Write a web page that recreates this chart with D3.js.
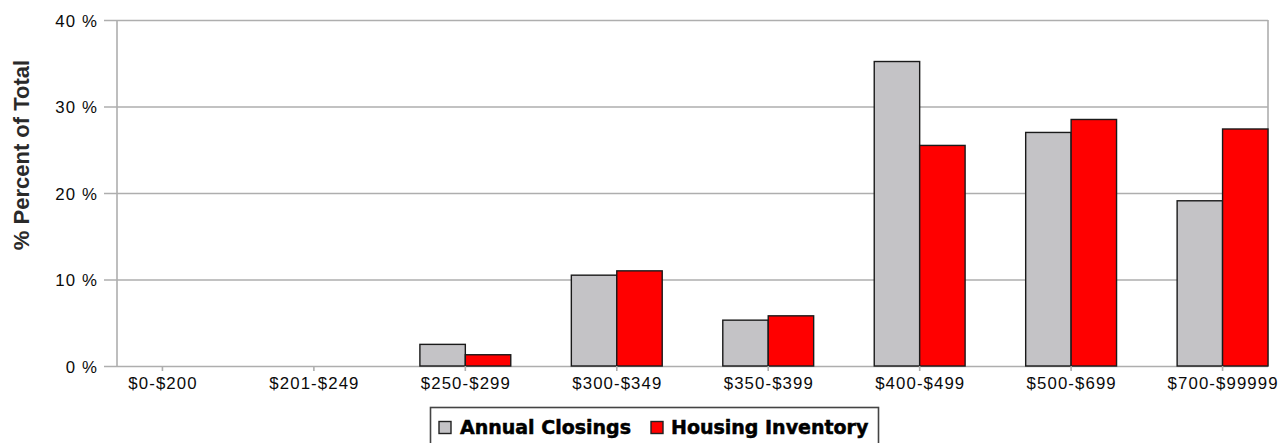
<!DOCTYPE html>
<html>
<head>
<meta charset="utf-8">
<script src="https://cdn.jsdelivr.net/npm/d3@7"></script>
<style>
  html, body { margin: 0; padding: 0; background: #fff; }
  svg { display: block; }
</style>
</head>
<body>
<svg id="chart" width="1279" height="443"></svg>
<script>
// Price ranges (thousands) and share of total per series
const categories = ["$0-$200", "$201-$249", "$250-$299", "$300-$349", "$350-$399", "$400-$499", "$500-$699", "$700-$99999"];
const annualClosings = [0, 0, 2.5, 10.5, 5.3, 35.2, 27.0, 19.1];
const housingInventory = [0, 0, 1.3, 11.0, 5.8, 25.5, 28.5, 27.4];
const seriesNames = ["Annual Closings", "Housing Inventory"];
const seriesColors = ["#c4c3c6", "#ff0000"];
const yTicks = [0, 10, 20, 30, 40];

const svg = d3.select("#chart");
const plotLeft = 117, plotRight = 1268, plotTop = 20, plotBottom = 366;

const x = d3.scaleBand().domain(categories).range([plotLeft, plotRight]).paddingInner(0.4).paddingOuter(0);
const xs = d3.scaleBand().domain(seriesNames).range([0, x.bandwidth()]);
const y = d3.scaleLinear().domain([0, 40]).range([plotBottom, plotTop]);

const gridColor = "#aeaeae";

// horizontal grid lines with ticks to the left
const yAxis = d3.axisLeft(y).tickValues(yTicks).tickSize(plotRight - plotLeft + 13).tickFormat(d => d + " %").tickPadding(6);
const gy = svg.append("g").attr("transform", `translate(${plotRight},0)`).call(yAxis);
gy.select(".domain").remove();
gy.selectAll(".tick line").attr("stroke", gridColor).attr("stroke-width", 1.6);
gy.selectAll(".tick text")
  .attr("font-family", "'Liberation Sans', Arial, sans-serif")
  .attr("font-size", "16.8px")
  .attr("letter-spacing", "1.1px")
  .attr("fill", "#0a0a0a")
  .attr("dy", "0.36em");

// left and right frame lines
svg.append("line").attr("x1", plotLeft).attr("x2", plotLeft).attr("y1", plotTop).attr("y2", plotBottom)
  .attr("stroke", gridColor).attr("stroke-width", 1.6);
svg.append("line").attr("x1", plotRight).attr("x2", plotRight).attr("y1", plotTop).attr("y2", plotBottom)
  .attr("stroke", gridColor).attr("stroke-width", 1.6);

// bars
const series = [annualClosings, housingInventory];
seriesNames.forEach((name, si) => {
  svg.append("g").selectAll("rect")
    .data(categories.map((c, i) => ({ c, v: series[si][i] })))
    .join("rect")
    .attr("x", d => x(d.c) + xs(name))
    .attr("y", d => y(d.v))
    .attr("width", xs.bandwidth())
    .attr("height", d => y(0) - y(d.v))
    .attr("fill", seriesColors[si])
    .attr("stroke", "#1a1a1a")
    .attr("stroke-opacity", d => d.v > 0 ? 1 : 0)
    .attr("stroke-width", 1.4);
});

// category axis
const gx = svg.append("g").attr("transform", `translate(0,${plotBottom})`)
  .call(d3.axisBottom(x).tickSize(5).tickPadding(6));
gx.select(".domain").remove();
gx.selectAll(".tick line").attr("stroke", gridColor).attr("stroke-width", 1.6);
gx.selectAll(".tick text")
  .attr("font-family", "'Liberation Sans', Arial, sans-serif")
  .attr("font-size", "16.8px")
  .attr("letter-spacing", "1.1px")
  .attr("fill", "#0a0a0a")
  .attr("dx", "0.55px");

// y axis title
svg.append("text")
  .attr("transform", "translate(29,155) rotate(-90)")
  .attr("text-anchor", "middle")
  .attr("font-family", "'Liberation Sans', Arial, sans-serif")
  .attr("font-weight", "bold")
  .attr("font-size", "22px")
  .attr("fill", "#2a2a2a")
  .text("% Percent of Total");

// legend
const lg = svg.append("g");
lg.append("rect").attr("x", 430.5).attr("y", 407.5).attr("width", 448).attr("height", 44)
  .attr("fill", "#fff").attr("stroke", "#444").attr("stroke-width", 1.6);
const legendX = [[439, 460], [651, 671]];
seriesNames.forEach((name, i) => {
  lg.append("rect").attr("x", legendX[i][0]).attr("y", 421.5).attr("width", 12).attr("height", 12)
    .attr("fill", seriesColors[i]).attr("stroke", "#222").attr("stroke-width", 1.4);
  lg.append("text").attr("x", legendX[i][1]).attr("y", 433.5)
    .attr("font-family", "'DejaVu Sans', Verdana, sans-serif")
    .attr("font-weight", "bold")
    .attr("font-size", "19px")
    .attr("fill", "#000")
    .attr("stroke", "#000")
    .attr("stroke-width", 0.5)
    .text(name);
});
</script>
</body>
</html>
